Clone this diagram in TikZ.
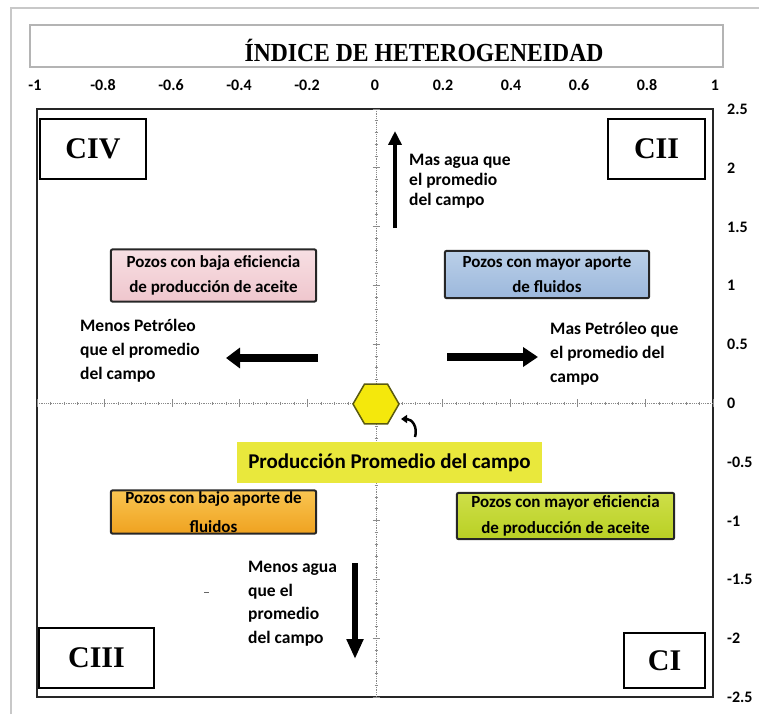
\documentclass[tikz,border=0pt]{standalone}
\usepackage{fontspec}
\setmainfont{Liberation Serif}
\newfontfamily\calfont{Carlito}
\usetikzlibrary{arrows.meta,shapes.geometric}
\definecolor{framegray}{HTML}{C8C8C8}
\definecolor{titlegray}{HTML}{B4B4B4}
\definecolor{pinktop}{HTML}{F7DFE3}
\definecolor{pinkbot}{HTML}{EFC6CD}
\definecolor{bluetop}{HTML}{BACFE8}
\definecolor{bluebot}{HTML}{9CB8DC}
\definecolor{orangetop}{HTML}{F9C551}
\definecolor{orangebot}{HTML}{EFA220}
\definecolor{greentop}{HTML}{CEDF48}
\definecolor{greenbot}{HTML}{B9D024}
\definecolor{bandyellow}{HTML}{E9E83C}
\definecolor{hexyellow}{HTML}{F4E80C}
\definecolor{hexedge}{HTML}{5A5A10}
\definecolor{axisgray}{HTML}{8A8A8A}
\tikzset{
  quad/.style={draw=black, line width=1.4pt, fill=white, inner sep=0pt,
    font=\fontsize{30}{34}\selectfont\bfseries},
  cbox/.style={inner sep=0pt, align=center, font=\calfont\bfseries\fontsize{17}{25}\selectfont},
  bord/.style={draw=black!85, line width=2pt, rounded corners=2pt},
  lbl/.style={font=\calfont\bfseries\fontsize{16}{16}\selectfont, inner sep=0pt, anchor=base},
  note/.style={align=left, anchor=north west, inner sep=0pt},
  fatarrow/.style={draw=black, line width=#1},
}
\begin{document}
\begin{tikzpicture}[x=1pt,y=-1pt]
\useasboundingbox (0,0) rectangle (759,714);
% outer light frame
\draw[framegray, line width=1.5pt] (11,714) -- (11,8) -- (759,8);
% title
\node[draw=titlegray, line width=1.5pt, minimum width=693pt, minimum height=42pt, inner sep=0pt] (title) at (376.5,46) {};
\node[inner sep=0pt] (titletext) at (424,50) {\scalebox{0.91}[1]{\fontsize{26}{28}\selectfont\bfseries ÍNDICE DE HETEROGENEIDAD}};
% x labels
\foreach \v/\t in {-1/-1,-0.8/-0.8,-0.6/-0.6,-0.4/-0.4,-0.2/-0.2,0/0,0.2/0.2,0.4/0.4,0.6/0.6,0.8/0.8,1/1}{
  \node[lbl] at ({375+\v*340},90.5) {\t};
}
% y labels
\foreach \v/\t in {2.5/2.5,2/2,1.5/1.5,1/1,0.5/0.5,0/0,-0.5/-0.5,-1/-1,-1.5/-1.5,-2/-2,-2.5/-2.5}{
  \node[lbl, anchor=base west] at (727,{408.5-\v*117.6}) {\t};
}
% plot frame
\node[draw=black!85, line width=2pt, minimum width=676pt, minimum height=588pt, inner sep=0pt] (plot) at (375,403) {};
% axes
\coordinate (xl) at (37,403);
\coordinate (xr) at (713,403);
\coordinate (yt) at (376,109);
\coordinate (yb) at (376,697);
\draw[axisgray, line width=0.8pt, densely dotted] (xl) -- (xr);
\draw[axisgray, line width=0.8pt, densely dotted] (yt) -- (yb);
\foreach \i in {0,...,50}{
  \draw[axisgray, line width=0.7pt] ({37+\i*13.52},401.5) -- ({37+\i*13.52},404.5);
}
\foreach \i in {0,...,10}{
  \draw[axisgray, line width=0.9pt] ({37+\i*67.6},399) -- ({37+\i*67.6},407);
}
\foreach \i in {0,...,50}{
  \draw[axisgray, line width=0.7pt] (374.5,{109+\i*11.76}) -- (377.5,{109+\i*11.76});
}
\foreach \i in {0,...,10}{
  \draw[axisgray, line width=0.9pt] (372.5,{109+\i*58.8}) -- (379.5,{109+\i*58.8});
}
% quadrant labels
\node[quad, minimum width=106pt, minimum height=60pt] (civ) at (93,149) {CIV};
\node[quad, minimum width=97pt, minimum height=60pt] (cii) at (656.5,149) {CII};
\node[quad, minimum width=115pt, minimum height=60pt] (ciii) at (96.5,658) {CIII};
\node[quad, minimum width=81pt, minimum height=55pt] (ci) at (664.5,660.5) {CI};
% coloured boxes
\node[cbox, top color=pinktop, bottom color=pinkbot, minimum width=205pt, minimum height=52pt] (pink) at (213.5,275.5) {Pozos con baja eficiencia\\de producción de aceite};
\draw[bord] (pink.south west) rectangle (pink.north east);
\node[cbox, top color=bluetop, bottom color=bluebot, minimum width=204pt, minimum height=47pt] (blue) at (547,274.5) {Pozos con mayor aporte\\de fluidos};
\draw[bord] (blue.south west) rectangle (blue.north east);
\node[cbox, top color=orangetop, bottom color=orangebot, minimum width=205pt, minimum height=43pt, font=\calfont\bfseries\fontsize{17}{29}\selectfont] (orange) at (213.5,512) {Pozos con bajo aporte de\\fluidos};
\draw[bord] (orange.south west) rectangle (orange.north east);
\node[cbox, top color=greentop, bottom color=greenbot, minimum width=217pt, minimum height=46pt, font=\calfont\bfseries\fontsize{17}{26}\selectfont] (green) at (565.5,516) {Pozos con mayor eficiencia\\de producción de aceite};
\draw[bord] (green.south west) rectangle (green.north east);
% average band
\node[fill=bandyellow, minimum width=305pt, minimum height=41pt, inner sep=0pt, font=\calfont\bfseries\fontsize{21}{24}\selectfont] (band) at (389.5,462.5) {Producción Promedio del campo};
% hexagon
\node[regular polygon, regular polygon sides=6, minimum size=46pt, inner sep=0pt, fill=hexyellow, draw=hexedge, line width=1.5pt] (hex) at (376,404) {};
% hook arrow
\coordinate (hookA) at (415,437);
\coordinate (hookB) at (401,419);
\draw[line width=2.5pt, -{Triangle[length=6pt,width=8pt]}] (hookA) .. controls (418,427) and (412,419) .. (hookB);
% big arrows
\coordinate (upA) at (395,228);
\coordinate (upB) at (395,131);
\draw[fatarrow=4pt, -{Triangle[length=14pt,width=13pt]}] (upA) -- (upB);
\coordinate (rA) at (447,357);
\coordinate (rB) at (538,357);
\draw[fatarrow=8pt, -{Triangle[length=15pt,width=19pt]}] (rA) -- (rB);
\coordinate (lA) at (318,358);
\coordinate (lB) at (226,358);
\draw[fatarrow=8pt, -{Triangle[length=14pt,width=20pt]}] (lA) -- (lB);
\coordinate (dA) at (355,563);
\coordinate (dB) at (355,659);
\draw[fatarrow=6pt, -{Triangle[length=20pt,width=16pt]}] (dA) -- (dB);
% notes
\node[note, font=\calfont\bfseries\fontsize{17.5}{20}\selectfont] (n1) at (409,154) {Mas agua que\\el promedio\\del campo};
\node[note, font=\calfont\bfseries\fontsize{17.5}{24}\selectfont] (n2) at (550,322) {Mas Petróleo que\\el promedio del\\campo};
\node[note, font=\calfont\bfseries\fontsize{17.5}{24}\selectfont] (n3) at (80,319) {Menos Petróleo\\que el promedio\\del campo};
\node[note, font=\calfont\bfseries\fontsize{17.5}{23.5}\selectfont] (n4) at (248,561) {Menos agua\\que el\\promedio\\del campo};
% stray mark
\draw[black!60, line width=1pt] (204,592) -- (209,592);
\end{tikzpicture}
\end{document}
